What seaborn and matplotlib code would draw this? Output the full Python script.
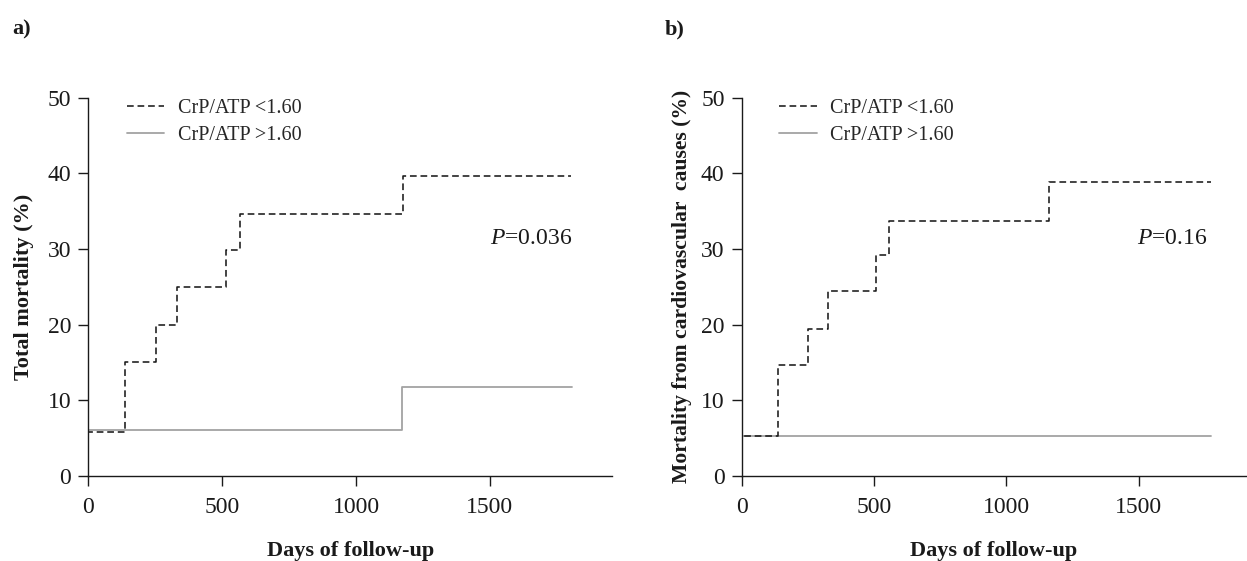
import matplotlib
matplotlib.use("Agg")
import matplotlib.pyplot as plt
import seaborn as sns
import pandas as pd

# Kaplan-Meier style cumulative mortality (%) by CrP/ATP group
low_label = "CrP/ATP <1.60"
high_label = "CrP/ATP >1.60"

# a) total mortality
a_low_days = [0, 0, 137, 252, 330, 515, 567, 1177, 1801]
a_low_pct = [0, 5.8, 15.1, 20.0, 24.9, 29.9, 34.6, 39.7, 39.7]
a_high_days = [0, 0, 1173, 1806]
a_high_pct = [0, 6.0, 11.7, 11.7]
a_p_text = "$\\mathit{P}$=0.036"

# b) mortality from cardiovascular causes
b_low_days = [0, 0, 136, 251, 326, 508, 556, 1162, 1775]
b_low_pct = [0, 5.2, 14.7, 19.4, 24.5, 29.2, 33.7, 38.9, 38.9]
b_high_days = [0, 0, 1775]
b_high_pct = [0, 5.25, 5.25]
b_p_text = "$\\mathit{P}$=0.16"

x_ticks = [0, 500, 1000, 1500]
y_ticks = [0, 10, 20, 30, 40, 50]

sns.set_theme(style="ticks")
serif = ["Liberation Serif", "DejaVu Serif"]
plt.rcParams["font.family"] = serif
plt.rcParams["mathtext.fontset"] = "custom"
plt.rcParams["mathtext.rm"] = "Liberation Serif"
plt.rcParams["mathtext.it"] = "Liberation Serif:italic"

fig = plt.figure(figsize=(12.47, 5.61), dpi=100)
ax_a = fig.add_axes([0.0709, 0.152, 0.4199, 0.6738])
ax_b = fig.add_axes([0.595, 0.152, 0.404, 0.6738])

ink = "#1a1a1a"
dash_kw = dict(color=ink, linewidth=1.15, linestyle=(0, (4.2, 2.4)))
solid_kw = dict(color="#a3a3a3", linewidth=1.3, linestyle="-")


def draw_panel(ax, low_d, low_p, high_d, high_p, p_text, p_x, xmax, ylabel, ylab_x, ylab_size):
    low = pd.DataFrame({"days": low_d, "pct": low_p})
    high = pd.DataFrame({"days": high_d, "pct": high_p})
    sns.lineplot(data=high, x="days", y="pct", ax=ax, estimator=None, sort=False,
                 drawstyle="steps-post", label=high_label, **solid_kw)
    sns.lineplot(data=low, x="days", y="pct", ax=ax, estimator=None, sort=False,
                 drawstyle="steps-post", label=low_label, **dash_kw)
    ax.set_xlim(0, xmax)
    ax.set_ylim(0, 50)
    ax.set_xticks(x_ticks)
    ax.set_yticks(y_ticks)
    ax.tick_params(axis="both", direction="out", length=7.5, width=1.0,
                   labelsize=17, colors=ink)
    ax.tick_params(axis="x", pad=8)
    ax.tick_params(axis="y", pad=5)
    for side in ("top", "right"):
        ax.spines[side].set_visible(False)
    for side in ("left", "bottom"):
        ax.spines[side].set_linewidth(1.0)
        ax.spines[side].set_color(ink)
    ax.set_xlabel("Days of follow-up", fontsize=16, fontweight="bold", color=ink)
    ax.set_ylabel(ylabel, fontsize=ylab_size, fontweight="bold", color=ink)
    ax.xaxis.set_label_coords(0.5, -0.172)
    ax.yaxis.set_label_coords(ylab_x, 0.5)
    handles, labels = ax.get_legend_handles_labels()
    order = [labels.index(low_label), labels.index(high_label)]
    ax.legend([handles[i] for i in order], [labels[i] for i in order],
              loc="upper left", bbox_to_anchor=(0.074, 0.998), frameon=False,
              borderpad=0, borderaxespad=0, fontsize=14.5, handlelength=1.85,
              handletextpad=0.65, labelspacing=0.4)
    ax.text(p_x, 31.4, p_text, fontsize=17, ha="right", va="center", color=ink)


draw_panel(ax_a, a_low_days, a_low_pct, a_high_days, a_high_pct, a_p_text, 1806, 1956,
           "Total mortality (%)", -0.104, 16)
draw_panel(ax_b, b_low_days, b_low_pct, b_high_days, b_high_pct, b_p_text, 1762, 1905,
           "Mortality from cardiovascular  causes (%)", -0.099, 15.6)

fig.text(0.010, 0.965, "a)", fontsize=16, fontweight="bold", va="top", ha="left", color=ink)
fig.text(0.533, 0.965, "b)", fontsize=16, fontweight="bold", va="top", ha="left", color=ink)

fig.savefig("out.png", dpi=100, facecolor="white")
